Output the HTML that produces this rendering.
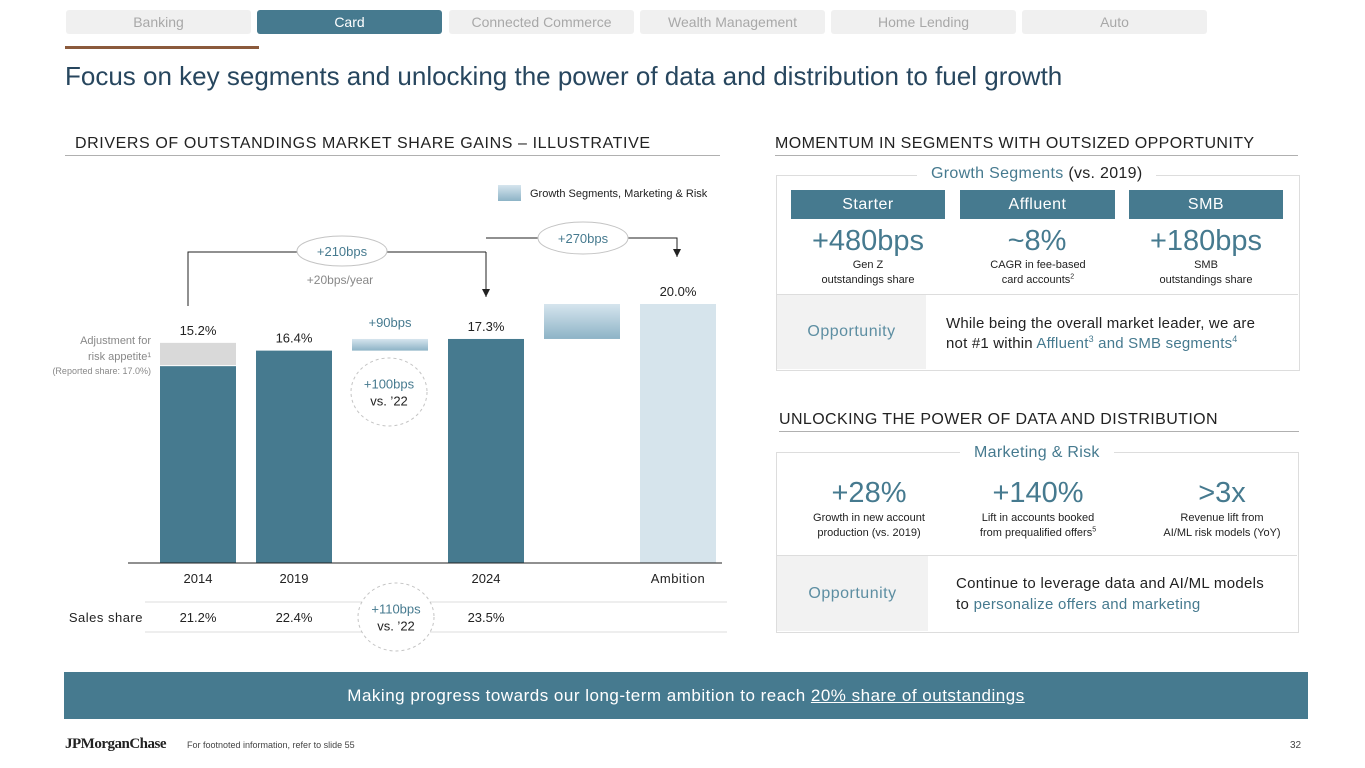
<!DOCTYPE html>
<html><head><meta charset="utf-8">
<style>
body{margin:0;width:1365px;height:768px;position:relative;background:#fff;font-family:"Liberation Sans",sans-serif;overflow:hidden}
.a{position:absolute;white-space:nowrap}
.tab{position:absolute;top:10px;height:24px;width:185px;background:#f0f0f0;color:#a8a8a8;font-size:14px;line-height:24px;text-align:center;border-radius:3px}
.hd{position:absolute;font-size:16px;color:#222;letter-spacing:0.6px}
.ln{position:absolute;height:1px;background:#b0b0b0}
.box{position:absolute;border:1px solid #ddd}
.seg{position:absolute;top:190px;height:29px;background:#467a8f;color:#fff;font-size:16px;line-height:29px;text-align:center;letter-spacing:.5px}
.big{position:absolute;font-size:29px;color:#467a8f;text-align:center;width:160px}
.sub{position:absolute;font-size:11px;color:#222;text-align:center;width:170px;line-height:15px}
sup{line-height:0;vertical-align:super}
.tl{color:#467a8f}
</style></head><body>
<div class="tab" style="left:66px">Banking</div>
<div class="tab" style="left:257px;background:#467a8f;color:#fff">Card</div>
<div class="tab" style="left:449px">Connected Commerce</div>
<div class="tab" style="left:640px">Wealth Management</div>
<div class="tab" style="left:831px">Home Lending</div>
<div class="tab" style="left:1022px">Auto</div>
<div class="a" style="left:65px;top:46px;width:194px;height:3px;background:#8b5a3c"></div>
<div class="a" style="left:65px;top:61px;font-size:26px;color:#27465e">Focus on key segments and unlocking the power of data and distribution to fuel growth</div>

<div class="hd" style="left:75px;top:135px">DRIVERS OF OUTSTANDINGS MARKET SHARE GAINS – ILLUSTRATIVE</div>
<div class="ln" style="left:65px;top:155px;width:655px"></div>

<svg class="a" style="left:0;top:0" width="760" height="660">
<defs><linearGradient id="g" x1="0" y1="0" x2="0" y2="1"><stop offset="0" stop-color="#d6e5ee"/><stop offset="1" stop-color="#8db3c6"/></linearGradient>
<marker id="ar" markerWidth="8" markerHeight="8" refX="8" refY="4" orient="auto" markerUnits="userSpaceOnUse"><path d="M0,0 L8,4 L0,8 z" fill="#222"/></marker></defs>
<g id="chart"></g>
</svg>

<div class="hd" style="left:775px;top:135px;letter-spacing:.4px">MOMENTUM IN SEGMENTS WITH OUTSIZED OPPORTUNITY</div>
<div class="ln" style="left:775px;top:155px;width:523px"></div>
<div class="box" style="left:776px;top:175px;width:522px;height:194px"></div>
<div class="a" style="left:917px;top:165px;background:#fff;padding:0 14px;font-size:16px;color:#467a8f;letter-spacing:.3px">Growth Segments <span style="color:#222">(vs. 2019)</span></div>
<div class="seg" style="left:791px;width:154px">Starter</div>
<div class="seg" style="left:960px;width:155px">Affluent</div>
<div class="seg" style="left:1129px;width:154px">SMB</div>
<div class="big" style="left:788px;top:225px">+480bps</div>
<div class="big" style="left:957px;top:225px">~8%</div>
<div class="big" style="left:1126px;top:225px">+180bps</div>
<div class="sub" style="left:783px;top:258px">Gen Z<br>outstandings share</div>
<div class="sub" style="left:953px;top:258px">CAGR in fee-based<br>card accounts<sup style="font-size:7px">2</sup></div>
<div class="sub" style="left:1121px;top:258px">SMB<br>outstandings share</div>
<div class="a" style="left:777px;top:294px;width:521px;height:1px;background:#ddd"></div>
<div class="a" style="left:777px;top:295px;width:149px;height:74px;background:#f2f2f2;color:#5d8ea2;font-size:16px;line-height:74px;text-align:center;letter-spacing:.5px">Opportunity</div>
<div class="a" style="left:946px;top:314px;font-size:15px;line-height:20px;color:#222;letter-spacing:.2px">While being the overall market leader, we are<br>not #1 within <span class="tl">Affluent<sup style="font-size:9px">3</sup> and SMB segments<sup style="font-size:9px">4</sup></span></div>

<div class="hd" style="left:779px;top:411px;letter-spacing:.4px">UNLOCKING THE POWER OF DATA AND DISTRIBUTION</div>
<div class="ln" style="left:779px;top:431px;width:520px"></div>
<div class="box" style="left:776px;top:452px;width:521px;height:179px"></div>
<div class="a" style="left:960px;top:444px;background:#fff;padding:0 14px;font-size:16px;color:#467a8f;letter-spacing:.3px">Marketing &amp; Risk</div>
<div class="big" style="left:789px;top:477px">+28%</div>
<div class="big" style="left:958px;top:477px">+140%</div>
<div class="big" style="left:1142px;top:477px">&gt;3x</div>
<div class="sub" style="left:784px;top:511px">Growth in new account<br>production (vs. 2019)</div>
<div class="sub" style="left:953px;top:511px">Lift in accounts booked<br>from prequalified offers<sup style="font-size:7px">5</sup></div>
<div class="sub" style="left:1137px;top:511px">Revenue lift from<br>AI/ML risk models (YoY)</div>
<div class="a" style="left:777px;top:555px;width:520px;height:1px;background:#ddd"></div>
<div class="a" style="left:777px;top:556px;width:151px;height:75px;background:#f2f2f2;color:#5d8ea2;font-size:16px;line-height:75px;text-align:center;letter-spacing:.5px">Opportunity</div>
<div class="a" style="left:956px;top:573px;font-size:15px;line-height:21px;color:#222;letter-spacing:.3px">Continue to leverage data and AI/ML models<br>to <span class="tl">personalize offers and marketing</span></div>

<div class="a" style="left:64px;top:672px;width:1244px;height:47px;background:#467a8f;color:#fff;font-size:17px;line-height:47px;text-align:center;letter-spacing:.5px">Making progress towards our long-term ambition to reach <u>20% share of outstandings</u></div>
<div class="a" style="left:65px;top:736px;font-family:'Liberation Serif',serif;font-weight:bold;font-size:15px;color:#222;letter-spacing:-.5px">JPMorganChase</div>
<div class="a" style="left:187px;top:740px;font-size:9px;color:#444">For footnoted information, refer to slide 55</div>
<div class="a" style="left:1290px;top:740px;font-size:10px;color:#444">32</div>

<script>
const categories=["2014","2019","","2024","","Ambition"];
const shareValues=[15.2,16.4,null,17.3,null,20.0];
const reportedShare2014=17.0;
const salesShare=["21.2%","22.4%","","23.5%","",""];
const floatFrom=[null,null,16.4,null,17.3,null];
const floatTo=[null,null,17.3,null,20.0,null];
const ns="http://www.w3.org/2000/svg",g=document.getElementById('chart');
const base=563,ppu=12.95,x0=160,step=96,bw=76;
const y=v=>base-v*ppu, x=i=>x0+i*step;
function el(t,a,txt){const e=document.createElementNS(ns,t);for(const k in a)e.setAttribute(k,a[k]);if(txt!=null)e.textContent=txt;g.appendChild(e);return e;}
const F='"Liberation Sans",sans-serif';
let e=el('rect',{x:498,y:185,width:23,height:16,fill:'url(#g)'});


e=el('text',{x:530,y:197,'font-size':11,fill:'#222','font-family':F},'Growth Segments, Marketing & Risk');


e=el('rect',{x:x(0),y:y(reportedShare2014),width:bw,height:y(shareValues[0])-y(reportedShare2014)-1,fill:'#d9d9d9'});


categories.forEach((c,i)=>{
 const v=shareValues[i];
 if(v!=null){
  const r=el('rect',{x:x(i),y:y(v),width:bw,height:base-y(v),fill:i==5?'#d6e4ec':'#467a8f'});
  
  
  const ty=i==0?y(reportedShare2014)-8:y(v)-8;
  const t=el('text',{x:x(i)+bw/2,y:ty,'text-anchor':'middle','font-size':13,fill:'#222','font-family':F},v.toFixed(1)+'%');
  
  
 }
 if(floatFrom[i]!=null){
  const r=el('rect',{x:x(i),y:y(floatTo[i]),width:bw,height:y(floatFrom[i])-y(floatTo[i]),fill:'url(#g)'});
  
  
 }
 if(c){const t=el('text',{x:x(i)+bw/2,y:583,'text-anchor':'middle','font-size':13,fill:'#222','font-family':F,'letter-spacing':c=='Ambition'?0.5:0},c);
  
  }
 if(salesShare[i]){const t=el('text',{x:x(i)+bw/2,y:622,'text-anchor':'middle','font-size':13,fill:'#222','font-family':F},salesShare[i]);
  
  }
});
el('line',{x1:128,x2:722,y1:base,y2:base,stroke:'#222','stroke-width':1});
el('line',{x1:145,x2:727,y1:602,y2:602,stroke:'#ddd'});
el('line',{x1:145,x2:727,y1:632,y2:632,stroke:'#ddd'});
e=el('text',{x:143,y:622,'text-anchor':'end','font-size':13,fill:'#222','font-family':F,'letter-spacing':.5},'Sales share');


['Adjustment for','risk appetite¹'].forEach((s,k)=>el('text',{x:151,y:344+k*16,'text-anchor':'end','font-size':11,fill:'#888','font-family':F},s));
el('text',{x:151,y:374,'text-anchor':'end','font-size':9,fill:'#888','font-family':F},'(Reported share: 17.0%)');
const mid=v=>x(v)+bw/2;
el('path',{d:`M${mid(0)-10},306 V252 H${mid(3)}`,fill:'none',stroke:'#222'});
el('path',{d:`M${mid(3)},252 V297`,fill:'none',stroke:'#222','marker-end':'url(#ar)'});
el('path',{d:`M${mid(3)},238 H${mid(5)-1} V257`,fill:'none',stroke:'#222','marker-end':'url(#ar)'});
function oval(cx,cy,rx,ry,lines,dash,name){
 const o=el('ellipse',{cx,cy,rx,ry,fill:'#fff',stroke:'#c4c4c4','stroke-dasharray':dash?'3,3':'none'});
 
 
 lines.forEach((s,k)=>el('text',{x:cx,y:cy+5+(k-(lines.length-1)/2)*17,'text-anchor':'middle','font-size':13,fill:k==0?'#467a8f':'#222','font-family':F},s));
}
oval(342,251,45,15,['+210bps'],false,'callout-210bps');
oval(583,238,45,16,['+270bps'],false,'callout-270bps');
oval(389,392,38,34,['+100bps','vs. ’22'],true,'callout-100bps');
oval(396,617,38,34,['+110bps','vs. ’22'],true,'callout-110bps');
el('text',{x:340,y:284,'text-anchor':'middle','font-size':12,fill:'#888','font-family':F},'+20bps/year');
el('text',{x:x(2)+bw/2,y:y(floatTo[2])-12,'text-anchor':'middle','font-size':13,fill:'#467a8f','font-family':F},'+90bps');
</script>
</body></html>
